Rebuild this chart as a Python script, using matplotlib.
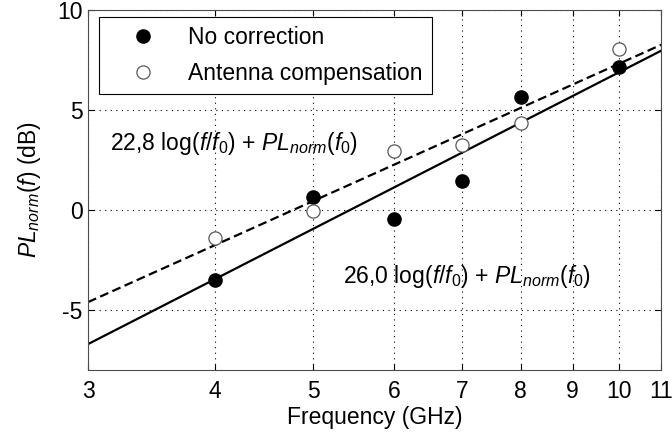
import numpy as np
import matplotlib
matplotlib.use("Agg")
import matplotlib.pyplot as plt
from matplotlib.ticker import FixedLocator, NullLocator

plt.rcParams['font.family'] = ['Liberation Sans', 'DejaVu Sans']
plt.rcParams['mathtext.fontset'] = 'custom'
plt.rcParams['mathtext.rm'] = 'Liberation Sans'
plt.rcParams['mathtext.it'] = 'Liberation Sans:italic'
plt.rcParams['axes.unicode_minus'] = False

# measured points (GHz, dB)
freq = [4, 5, 6, 7, 8, 10]
pl_no_corr = [-3.5, 0.65, -0.45, 1.45, 5.65, 7.15]
pl_ant_comp = [-1.4, -0.05, 2.95, 3.25, 4.35, 8.05]

# fitted lines: slope (dB/decade) and value at f_ref
f_ref = 3.0
solid_slope, solid_at_ref = 26.0, -6.7
dash_slope, dash_at_ref = 22.8, -4.6

xticks = [3, 4, 5, 6, 7, 8, 9, 10, 11]
yticks = [-5, 0, 5, 10]

FS = 16.5

fig = plt.figure(figsize=(6.72, 4.38), dpi=100)
ax = fig.add_axes([0.131, 0.155, 0.853, 0.822])

f = np.linspace(3, 11, 200)
ax.plot(f, solid_at_ref + solid_slope * np.log10(f / f_ref), color='black', lw=1.6)
ax.plot(f, dash_at_ref + dash_slope * np.log10(f / f_ref), color='black', lw=1.6,
        ls=(0, (4, 2)))

ax.plot(freq, pl_no_corr, 'o', color='black', ms=9.5, label='No correction')
ax.plot(freq, pl_ant_comp, 'o', mfc='white', mec='0.35', mew=0.9, ms=9.5,
        label='Antenna compensation')

ax.set_xscale('log')
ax.set_xlim(3, 11)
ax.set_ylim(-8, 10)
ax.xaxis.set_major_locator(FixedLocator(xticks))
ax.xaxis.set_minor_locator(NullLocator())
ax.set_xticklabels([str(t) for t in xticks])
ax.set_yticks(yticks)
ax.tick_params(direction='in', top=True, right=True, labelsize=FS, length=4)
ax.tick_params(axis='x', pad=7)
ax.tick_params(axis='y', pad=4)
ax.grid(True, color='black', ls=(0, (1, 4)), lw=0.8)
for s in ax.spines.values():
    s.set_color('0.3')

ax.set_xlabel('Frequency (GHz)', fontsize=FS, labelpad=2)
ax.set_ylabel(r'$PL_{norm}$($f$) (dB)', fontsize=FS, labelpad=10)

ax.text(3.15, 3.0, r'22,8 log($f$/$f_0$) + $PL_{norm}$($f_0$)', fontsize=FS)
ax.text(5.35, -3.65, r'26,0 log($f$/$f_0$) + $PL_{norm}$($f_0$)', fontsize=FS)

leg = ax.legend(loc='upper left', bbox_to_anchor=(11 / 573, 1 - 7 / 360),
                borderaxespad=0, fontsize=FS, fancybox=False, framealpha=1,
                edgecolor='black', handlelength=3, handletextpad=0.5,
                labelspacing=0.55, borderpad=0.4)
leg.get_frame().set_linewidth(0.8)

fig.savefig('out.png', dpi=100)
